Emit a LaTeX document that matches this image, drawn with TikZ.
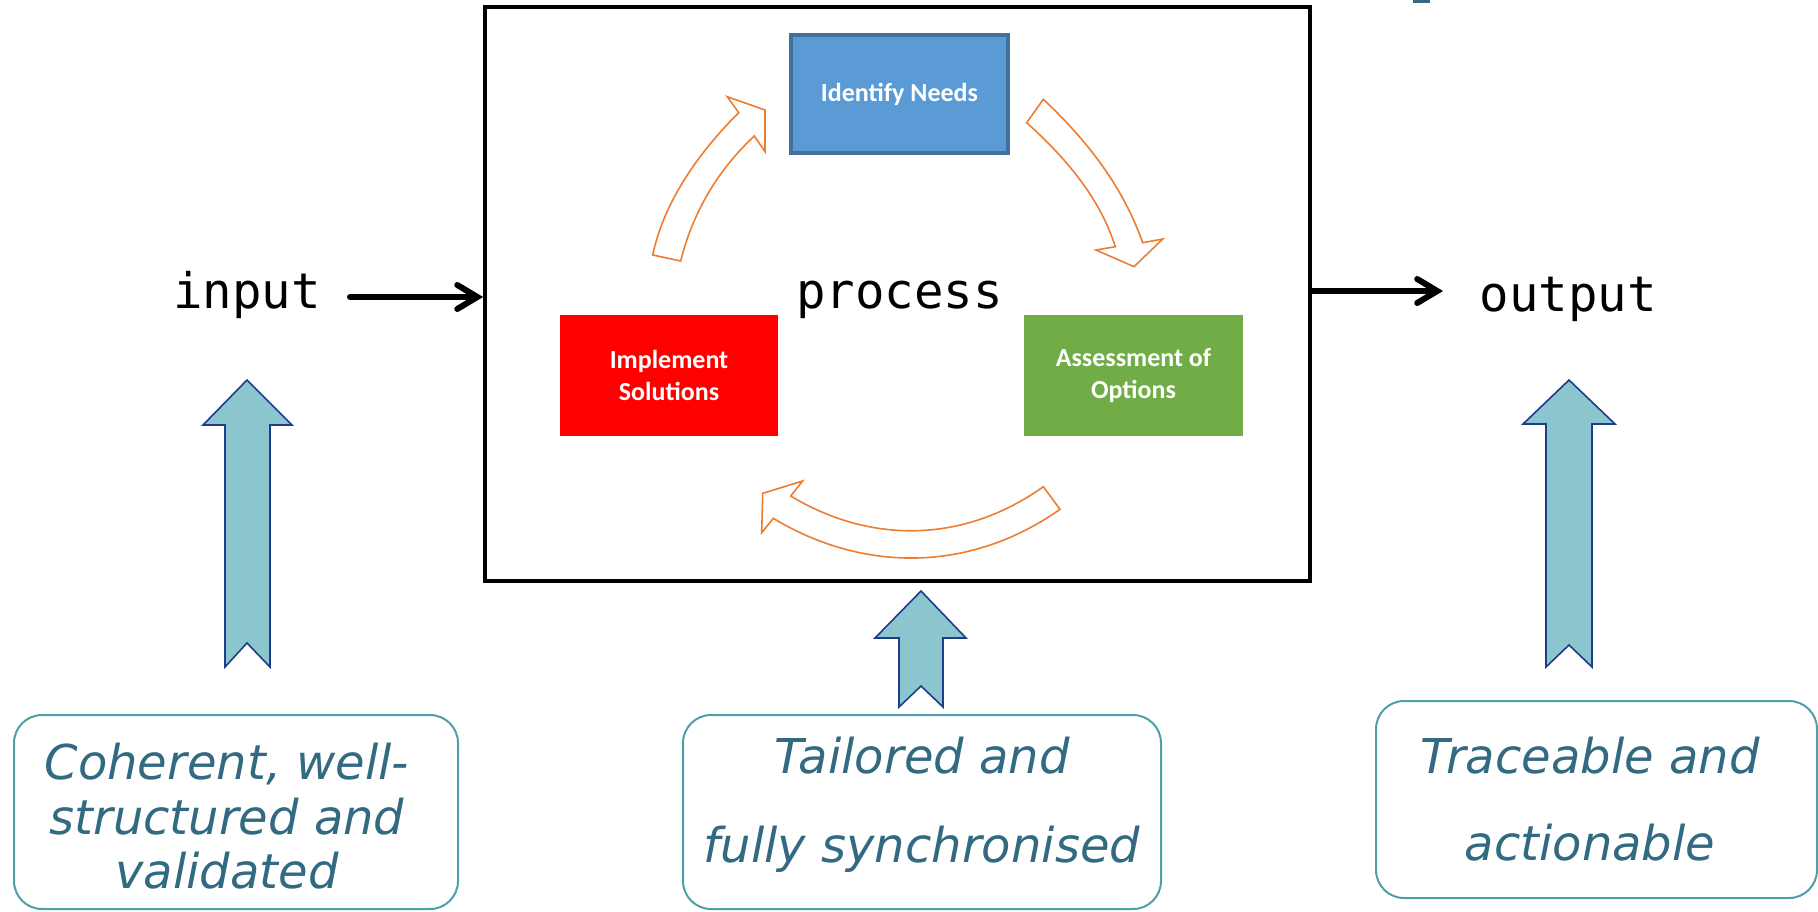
\documentclass[tikz,border=0pt]{standalone}
\usepackage{fontspec}
\usetikzlibrary{arrows.meta}
\newfontfamily\monofont{DejaVu Sans Mono}
\newfontfamily\calfont{Carlito}
\newfontfamily\verfont{DejaVu Sans}
\definecolor{needblue}{HTML}{5B9BD5}
\definecolor{needborder}{HTML}{41719C}
\definecolor{optgreen}{HTML}{70AD47}
\definecolor{cycorange}{HTML}{ED7D31}
\definecolor{tealfill}{HTML}{8BC5CE}
\definecolor{navyline}{HTML}{1F3C88}
\definecolor{noteborder}{HTML}{4F9FA8}
\definecolor{notetext}{HTML}{326A82}
\tikzset{
  stagebox/.style={inner sep=0pt, font=\calfont\bfseries\fontsize{13}{15.6}\selectfont, text=white, align=center},
  flow/.style={line width=3pt, line cap=round, -{Straight Barb[length=10pt,width=12pt,line cap=round]}},
  cyclearrow/.style={draw=cycorange, fill=white, line width=0.8pt, line join=miter},
  bigup/.style={draw=navyline, fill=tealfill, line width=0.8pt, line join=miter},
  notebox/.style={draw=noteborder, line width=1pt, rounded corners=14pt},
  notetxt/.style={anchor=base, text=notetext, font=\verfont\itshape\fontsize{24}{28}\selectfont, inner sep=0pt},
  monotxt/.style={anchor=base, font=\monofont\fontsize{24.5}{29}\selectfont, inner sep=0pt}
}
\begin{document}
\begin{tikzpicture}[x=0.5pt,y=-0.5pt]
\useasboundingbox (0,0) rectangle (1818,911);

% main process box
\node[draw=black, line width=1.9pt, minimum width=412.5pt, minimum height=287pt, inner sep=0pt] (proc) at (897.5,294) {};
\node[monotxt] (ptxt) at (899.5,308) {process};

% stage boxes
\node[stagebox, fill=needblue, draw=needborder, line width=2pt, minimum width=108.5pt, minimum height=59pt] (needs) at (899.5,94) {Identify Needs};
\node[stagebox, fill=red, minimum width=109pt, minimum height=60.5pt] (impl) at (669,375.5) {Implement\\Solutions};
\node[stagebox, fill=optgreen, minimum width=109.5pt, minimum height=60.5pt] (assess) at (1133.5,375.5) {Assessment of\\Options};

% cycle arrows
\draw[cyclearrow] (652.7,255) -- (680.7,261)
  .. controls (692.7,212.5) and (717.8,170) .. (754.3,136)
  -- (765,151.7) -- (765,110) -- (727.3,96.7) -- (738.7,112.7)
  .. controls (700,151) and (664,201) .. (652.7,255) -- cycle;
\draw[cyclearrow] (1043.3,99.3)
  .. controls (1087.3,140.7) and (1122.7,186.3) .. (1142.7,242.7)
  -- (1162.7,239) -- (1134,266.7) -- (1096,250) -- (1115.3,246.7)
  .. controls (1099.7,197.3) and (1065.2,157.5) .. (1026.7,122.7) -- cycle;
\draw[cyclearrow] (1043.3,486.7) -- (1060,509.3)
  .. controls (970,572.7) and (863.3,572.7) .. (773.3,518.3)
  -- (761.7,532.7) -- (762.7,493.3) -- (802.7,481) -- (790.7,496)
  .. controls (870,543.8) and (963,543.8) .. (1043.3,486.7) -- cycle;

% input / output
\node[monotxt] (input) at (247,308) {input};
\node[monotxt] (output) at (1568,311) {output};
\coordinate (inA) at (350,297);
\coordinate (outB) at (1443,291);
\draw[flow] (inA) -- (inA -| proc.west);
\draw[flow] (outB -| proc.east) -- (outB);

% big up arrows
\draw[bigup] (247,380) -- (292,425) -- (270,425) -- (270,667) -- (247,643) -- (225,667) -- (225,425) -- (203,425) -- cycle;
\draw[bigup] (921,591) -- (966,638) -- (943,638) -- (943,707) -- (921,686) -- (899,707) -- (899,638) -- (875,638) -- cycle;
\draw[bigup] (1569,380) -- (1615,424) -- (1592,424) -- (1592,667) -- (1569,645) -- (1546,667) -- (1546,424) -- (1523,424) -- cycle;

% note boxes
\draw[notebox] (14,715) rectangle (458,909);
\draw[notebox] (683,715) rectangle (1161,909);
\draw[notebox] (1376,701) rectangle (1817,898);

\node[notetxt] (l1) at (227,779) {Coherent, well-};
\node[notetxt] (l2) at (227,834) {structured and};
\node[notetxt] (l3) at (227,888) {validated};
\node[notetxt] (m1) at (922,773) {Tailored and};
\node[notetxt] (m2) at (922,862) {fully synchronised};
\node[notetxt] (r1) at (1590,773) {Traceable and};
\node[notetxt] (r2) at (1590,860) {actionable};

% fragment at top edge
\fill[notetext] (1413,0) rectangle (1430,2.5);
\end{tikzpicture}
\end{document}
